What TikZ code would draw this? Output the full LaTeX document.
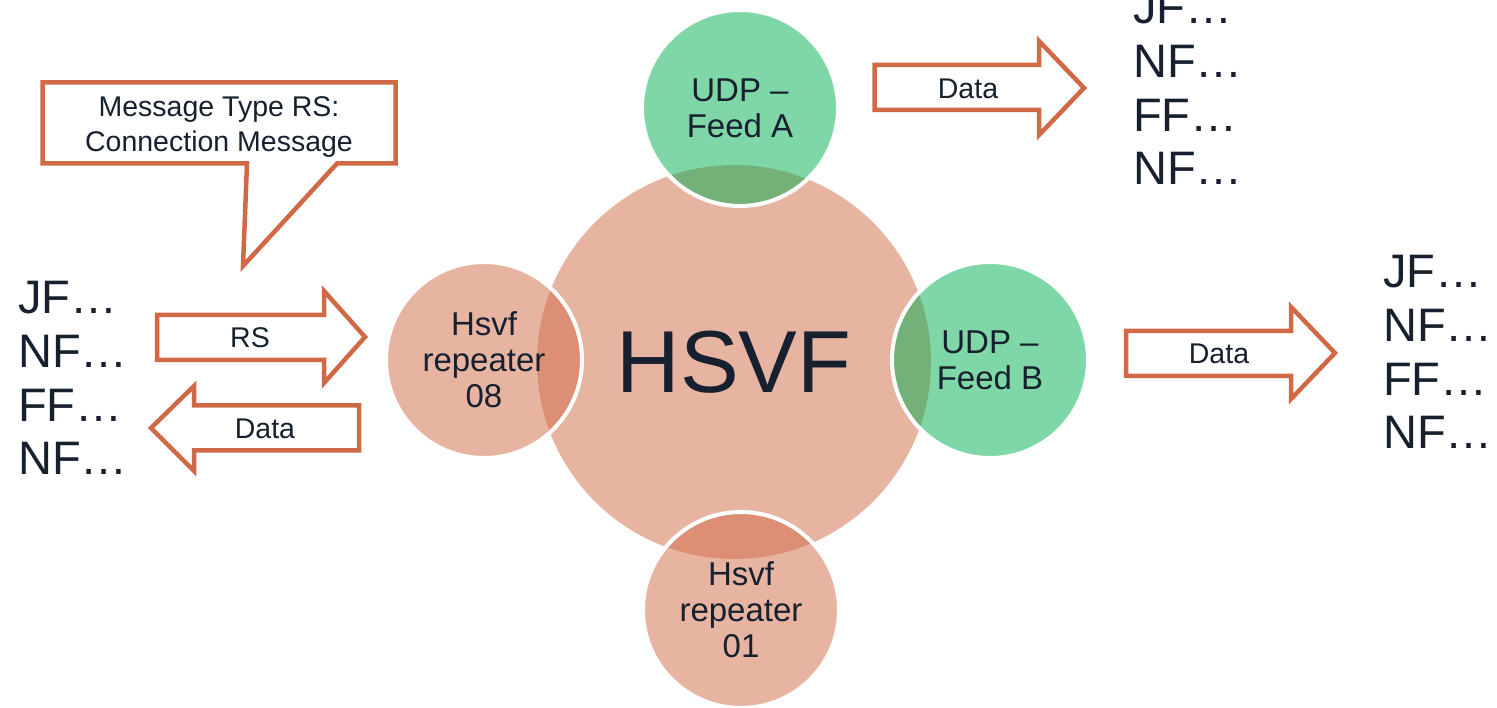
\documentclass[tikz,border=0pt]{standalone}
\usepackage{fontspec}
\setmainfont{Liberation Sans}

\definecolor{accent}{RGB}{208,106,70}
\definecolor{feedgreen}{RGB}{0,176,80}
\definecolor{ink}{RGB}{23,32,46}

\tikzset{
	bubble/.style={circle, inner sep=0pt, fill=accent, fill opacity=0.5,
		text opacity=1, text=ink, align=center},
	smallbubble/.style={bubble, draw=white, line width=4pt,
		minimum size=196pt, font=\fontsize{33}{36}\selectfont},
	blockarrow/.style={draw=accent, fill=white, line width=4.5pt},
	arrowtext/.style={text=ink, inner sep=0pt, align=center,
		font=\fontsize{28.5}{35}\selectfont},
	listtext/.style={text=ink, inner sep=0pt, align=left, anchor=north west,
		font=\fontsize{47}{53.7}\selectfont},
}

\begin{document}
\begin{tikzpicture}[x=1pt, y=-1pt]

	% page
	\useasboundingbox (0,0) rectangle (1497,708);
	\clip (0,0) rectangle (1497,708);

	% constants
	\pgfmathsetmacro{\capheight}{0.716*47};

	% circles
	\node[bubble, minimum size=394pt, font=\fontsize{88}{100}\selectfont]
		(hsvf) at (734,362) {HSVF};
	\node[smallbubble, fill=feedgreen] (feedA) at (740,108) {UDP --\\Feed A};
	\node[smallbubble, fill=feedgreen] (feedB) at (990,360) {UDP --\\Feed B};
	\node[smallbubble] (rep08) at (484,360) {Hsvf\\repeater\\08};
	\node[smallbubble] (rep01) at (741,610) {Hsvf\\repeater\\01};

	% callout
	\draw[blockarrow] (42.5,82.5) -- (395.5,82.5) -- (395.5,163.5)
		-- (337,163.5) -- (243,266) -- (247,163.5) -- (42.5,163.5) -- cycle;
	\node[arrowtext, anchor=north] (msg) at (219,96.5)
		{Message Type RS:\\Connection Message};

	% left arrows
	\draw[blockarrow] (157,315) -- (324,315) -- (324,291) -- (365,337)
		-- (324,383) -- (324,360) -- (157,360) -- cycle;
	\node[arrowtext] (rs) at (250,337.5) {RS};
	\draw[blockarrow] (359,405.5) -- (194,405.5) -- (194,386) -- (151,428)
		-- (194,471) -- (194,450.5) -- (359,450.5) -- cycle;
	\node[arrowtext] (dataL) at (265,429) {Data};

	% right arrows
	\draw[blockarrow] (874.5,65) -- (1039,65) -- (1039,41) -- (1084,88)
		-- (1039,135) -- (1039,110) -- (874.5,110) -- cycle;
	\node[arrowtext] (dataA) at (968,88.5) {Data};
	\draw[blockarrow] (1126,331) -- (1291,331) -- (1291,307) -- (1335,353)
		-- (1291,399) -- (1291,376) -- (1126,376) -- cycle;
	\node[arrowtext] (dataB) at (1219,354) {Data};

	% message lists
	\node[listtext] (listL) at (18,{315-\capheight})
		{JF…\\NF…\\FF…\\NF…};
	\node[listtext] (listA) at (1133,{25-\capheight})
		{JF…\\NF…\\FF…\\NF…};
	\node[listtext] (listB) at (1383,{289-\capheight})
		{JF…\\NF…\\FF…\\NF…};

\end{tikzpicture}
\end{document}
